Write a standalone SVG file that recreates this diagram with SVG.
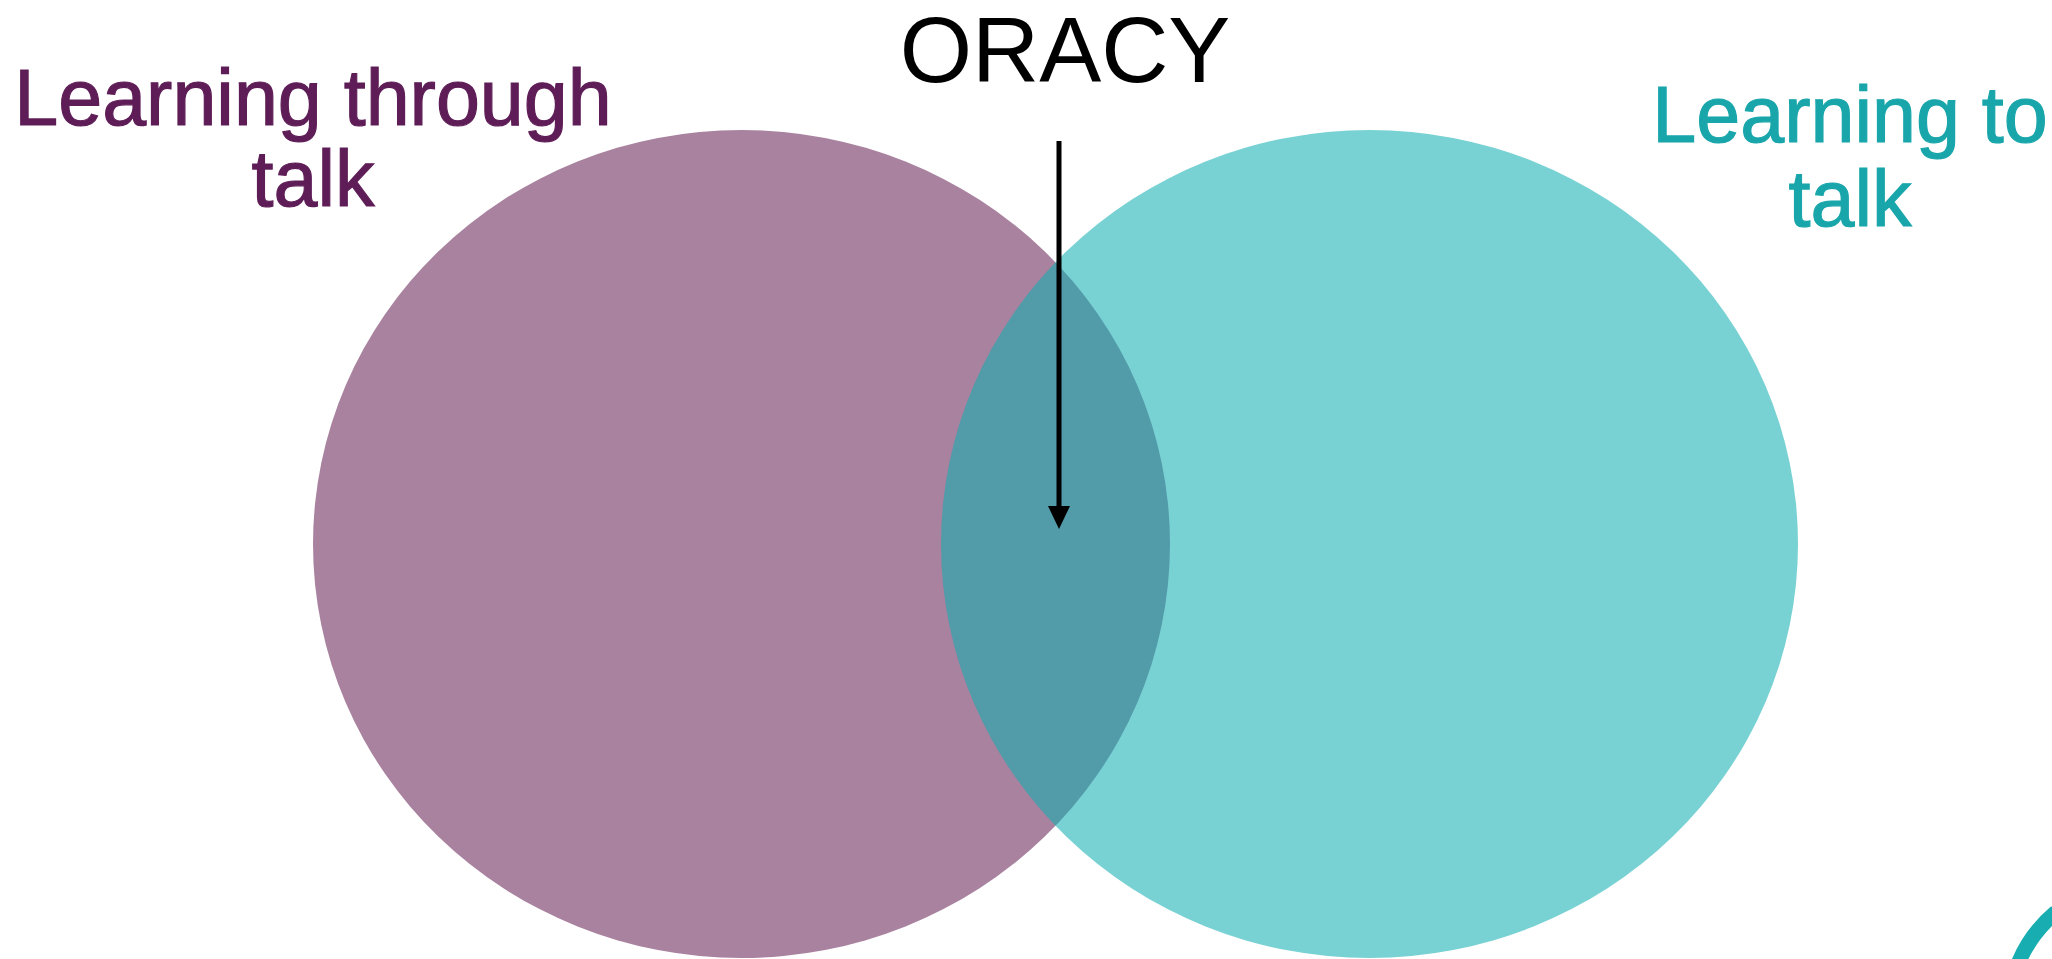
<svg xmlns="http://www.w3.org/2000/svg" width="2052" height="959" viewBox="0 0 2052 959">
  <style>
    text { font-family: "Liberation Sans", Arial, sans-serif; text-anchor: middle; }
    .lbl { font-size: 79px; stroke-width: 1.2px; }
    .left { fill: #5e1d57; stroke: #5e1d57; }
    .right { fill: #19a6ab; stroke: #19a6ab; }
    .title { font-size: 93px; fill: #000000; }
    .conn { stroke: #000000; stroke-width: 5; fill: none; }
    .head { fill: #000000; stroke: none; }
  </style>
  <rect x="0" y="0" width="2052" height="959" fill="#ffffff"/>
  <g id="node-learning-through-talk">
    <ellipse cx="741.5" cy="544" rx="428.5" ry="414" fill="#a8829f"/>
    <text class="lbl left" x="313" y="125">Learning through</text>
    <text class="lbl left" x="313" y="206">talk</text>
  </g>
  <g id="node-learning-to-talk">
    <ellipse cx="1369.5" cy="544" rx="428.5" ry="414" fill="#12aeb2" fill-opacity="0.57"/>
    <text class="lbl right" x="1850" y="142">Learning to</text>
    <text class="lbl right" x="1850" y="226">talk</text>
  </g>
  <g id="node-oracy">
    <text class="title" x="1065" y="82">ORACY</text>
  </g>
  <g id="connectors">
    <line class="conn" x1="1059" y1="141" x2="1059" y2="510"/>
    <polygon class="head" points="1048,506 1070,506 1059,529"/>
  </g>
  <g id="corner-mark">
    <path d="M 2018 964 Q 2030 934 2056 912" fill="none" stroke="#17adb1" stroke-width="15"/>
  </g>
</svg>
